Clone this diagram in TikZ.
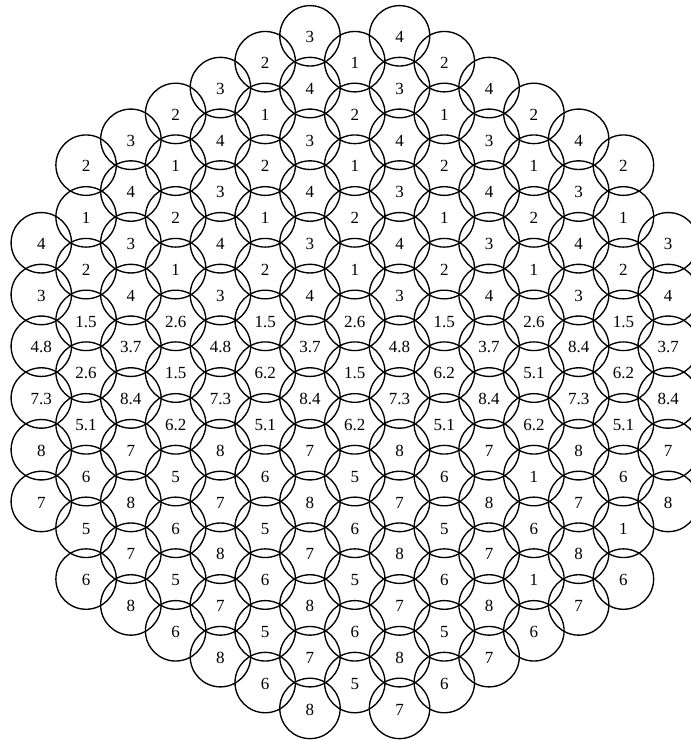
\documentclass[tikz,border=0pt]{standalone}
\usepackage{fontspec}
\setmainfont{Liberation Serif}
\begin{document}
\begin{tikzpicture}[x=1pt,y=-1pt,
  cell/.style={circle,draw,line width=1.35pt,minimum size=60.4pt,inner sep=0pt,
    font=\fontsize{17}{17}\selectfont,text height=13.5pt,text depth=0pt}]
\useasboundingbox (0,0) rectangle (691,740);
\clip (0,0) rectangle (691,740);
\foreach \c/\s/\L in {
  0/8/{4,3,4.8,7.3,8,7},
  1/5/{2,1,2,1.5,2.6,5.1,6,5,6},
  2/4/{3,4,3,4,3.7,8.4,7,8,7,8},
  3/3/{2,1,2,1,2.6,1.5,6.2,5,6,5,6},
  4/2/{3,4,3,4,3,4.8,7.3,8,7,8,7,8},
  5/1/{2,1,2,1,2,1.5,6.2,5.1,6,5,6,5,6},
  6/0/{3,4,3,4,3,4,3.7,8.4,7,8,7,8,7,8},
  7/1/{1,2,1,2,1,2.6,1.5,6.2,5,6,5,6,5},
  8/0/{4,3,4,3,4,3,4.8,7.3,8,7,8,7,8,7},
  9/1/{2,1,2,1,2,1.5,6.2,5.1,6,5,6,5,6},
  10/2/{4,3,4,3,4,3.7,8.4,7,8,7,8,7},
  11/3/{2,1,2,1,2.6,5.1,6.2,1,6,1,6},
  12/4/{4,3,4,3,8.4,7.3,8,7,8,7},
  13/5/{2,1,2,1.5,6.2,5.1,6,1,6},
  14/8/{3,4,3.7,8.4,7,8}}{
  \foreach \l [count=\i from 0] in \L {
    \pgfmathtruncatemacro\kk{\s+2*\i}
    \node[cell] (n-\c-\kk) at ({41.3+44.78*\c},{35.8+25.87*\kk}) {\l};
  }
}
\end{tikzpicture}
\end{document}
